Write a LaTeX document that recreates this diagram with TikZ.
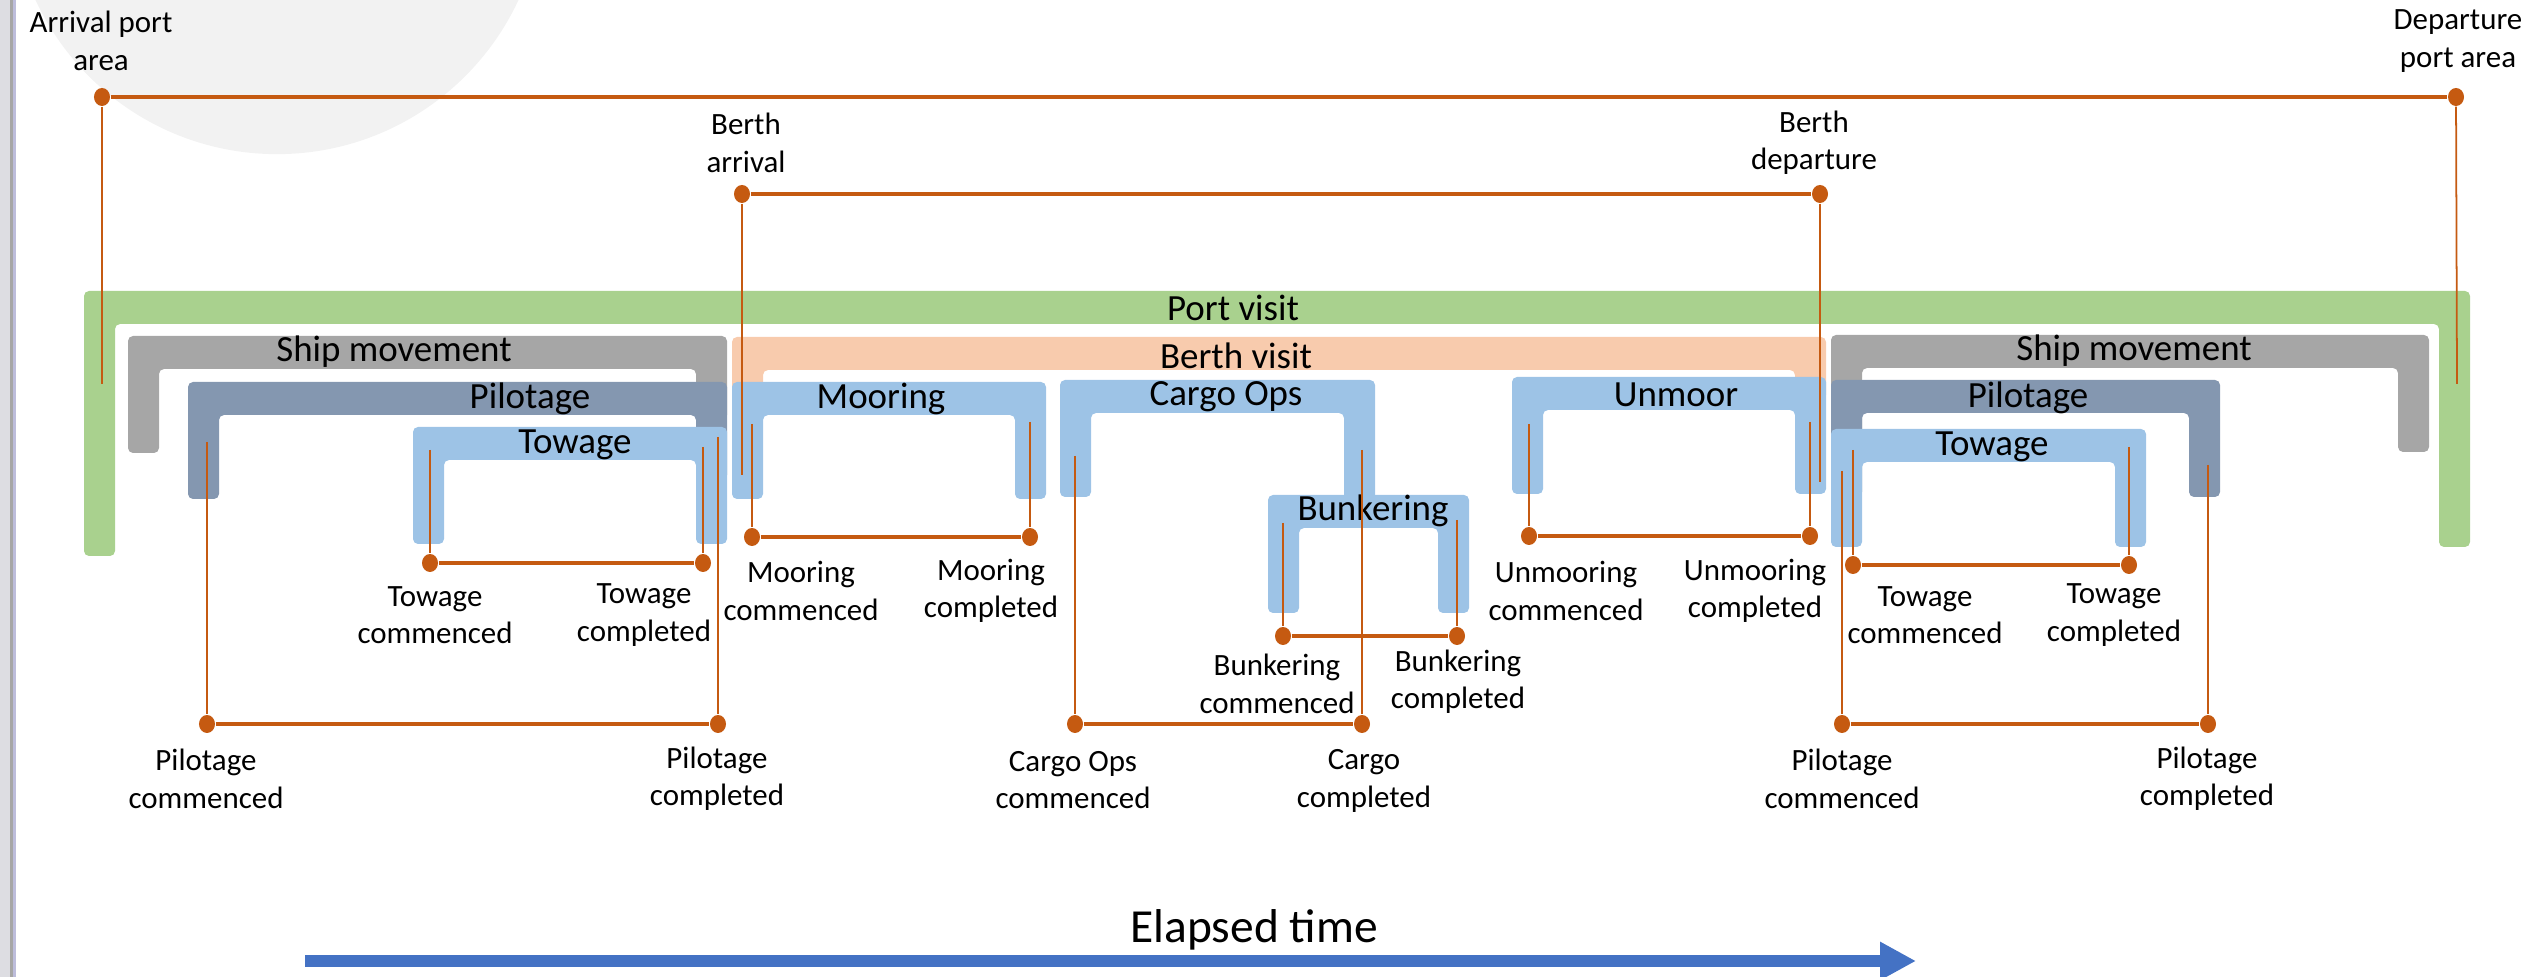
\documentclass[tikz,border=0pt]{standalone}
\usepackage{fontspec}
\setmainfont{Carlito}
\usepackage{xcolor}
\usetikzlibrary{arrows.meta, shapes.geometric}

\definecolor{pvgreen}{HTML}{A9D18E}
\definecolor{smgray}{HTML}{A6A6A6}
\definecolor{pilotblue}{HTML}{8497B0}
\definecolor{opsblue}{HTML}{9DC3E6}
\definecolor{berthpeach}{HTML}{F8CBAD}
\definecolor{evorange}{HTML}{C55A11}
\definecolor{timeblue}{HTML}{4472C4}

% colour, x left, x right, y top, y of left foot, y of right foot
\newcommand{\phasebar}[6]{%
  \fill[#1, rounded corners=0.5mm] (#2,#5) -- (#2,#4) -- (#3,#4) -- (#3,#6)
    -- ({#3-31},#6) -- ({#3-31},{#4+33}) -- ({#2+31},{#4+33}) -- ({#2+31},#5) -- cycle;
}

\begin{document}
\begin{tikzpicture}[x=0.01cm, y=-0.01cm,
    dot/.style={ellipse, fill=evorange, inner sep=0pt, minimum width=0.16cm, minimum height=0.18cm},
    span/.style={draw=evorange, line width=1.1pt},
    drop/.style={draw=evorange, line width=0.5pt},
    evlabel/.style={align=center, inner sep=0pt, font=\fontsize{8.8}{10.6}\selectfont},
    barlabel/.style={inner sep=0pt, font=\fontsize{10.5}{12.6}\selectfont}]
    \useasboundingbox (0,0) rectangle (2542,977);
    \clip (0,0) rectangle (2542,977);

    % Background
    \fill[black!5] (277,-112) circle [radius=2.66cm];
    \fill[blue!8!gray!25] (0,0) rectangle (10,977);
    \fill[gray!70] (10,0) rectangle (13,977);
    \fill[blue!30!gray!40] (13,0) rectangle (16,977);

    % Phase brackets
    \phasebar{pvgreen}{84}{2470}{291}{556}{547}
    \phasebar{smgray}{128}{727}{336}{453}{420}
    \phasebar{pilotblue}{188}{727}{382}{499}{480}
    \phasebar{opsblue}{413}{727}{427}{544}{544}
    \phasebar{berthpeach}{732}{1826}{337}{400}{400}
    \phasebar{opsblue}{732}{1046}{382}{499}{499}
    \phasebar{opsblue}{1060}{1375}{380}{497}{510}
    \phasebar{opsblue}{1268}{1469}{495}{613}{613}
    \phasebar{opsblue}{1512}{1826}{377}{494}{494}
    \phasebar{smgray}{1831}{2429}{335}{450}{452}
    \phasebar{pilotblue}{1831}{2220}{380}{497}{497}
    \phasebar{opsblue}{1831}{2146}{429}{547}{547}

    % Bracket titles
    \node[barlabel] (portvisit) at (1233,308) {Port visit};
    \node[barlabel] (shipmovA) at (394,352) {Ship movement};
    \node[barlabel] (pilotA) at (530,399) {Pilotage};
    \node[barlabel] (towA) at (575,445) {Towage};
    \node[barlabel] (berthvisit) at (1236,356) {Berth visit};
    \node[barlabel] (mooring) at (881,399) {Mooring};
    \node[barlabel] (cargo) at (1226,397) {Cargo Ops};
    \node[barlabel] (bunker) at (1373,511) {Bunkering};
    \node[barlabel] (unmoor) at (1676,395) {Unmoor};
    \node[barlabel] (shipmovB) at (2134,351) {Ship movement};
    \node[barlabel] (pilotB) at (2028,398) {Pilotage};
    \node[barlabel] (towB) at (1992,447) {Towage};

    % Port area and berth events
    \node[dot] (arrport) at (102,97) {};
    \node[dot] (depport) at (2456,97) {};
    \coordinate (arrportend) at (102,384);
    \coordinate (depportend) at (2457,384);
    \draw[span] (arrport) -- (depport);
    \draw[drop] (arrport) -- (arrportend);
    \draw[drop] (depport) -- (depportend);
    \node[evlabel] (arrporttxt) at (101,41) {Arrival port\\area};
    \node[evlabel] (depporttxt) at (2458,41) {Departure\\port area};

    \node[dot] (berarr) at (742,194) {};
    \node[dot] (berdep) at (1820,194) {};
    \coordinate (berarrend) at (742,475);
    \coordinate (berdepend) at (1820,482);
    \draw[span] (berarr) -- (berdep);
    \draw[drop] (berarr) -- (berarrend);
    \draw[drop] (berdep) -- (berdepend);
    \node[evlabel] (berarrtxt) at (746,143) {Berth\\arrival};
    \node[evlabel] (berdeptxt) at (1814,143) {Berth\\departure};

    % Start / end events of each activity
    \foreach \ev/\xa/\ya/\xb/\yb/\yd in {
        towA/430/450/703/447/563,
        pilA/207/442/718/437/724,
        moor/752/424/1030/422/537,
        cargo/1075/456/1362/450/724,
        bunk/1283/523/1457/520/636,
        unmoor/1529/424/1810/422/536,
        towB/1853/450/2129/447/565,
        pilB/1842/471/2208/465/724} {
        \coordinate (\ev starttop) at (\xa,\ya);
        \coordinate (\ev endtop) at (\xb,\yb);
        \node[dot] (\ev start) at (\xa,\yd) {};
        \node[dot] (\ev end) at (\xb,\yd) {};
        \draw[drop] (\ev starttop) -- (\ev start);
        \draw[drop] (\ev endtop) -- (\ev end);
        \draw[span] (\ev start) -- (\ev end);
    }

    \node[evlabel] (towAstarttxt) at (435,615) {Towage\\commenced};
    \node[evlabel] (towAendtxt) at (644,615) {Towage\\completed};
    \node[evlabel] (pilAstarttxt) at (206,779) {Pilotage\\commenced};
    \node[evlabel] (pilAendtxt) at (717,779) {Pilotage\\completed};
    \node[evlabel] (moorstarttxt) at (801,591) {Mooring\\commenced};
    \node[evlabel] (moorendtxt) at (991,591) {Mooring\\completed};
    \node[evlabel] (cargostarttxt) at (1073,780) {Cargo Ops\\commenced};
    \node[evlabel] (cargoendtxt) at (1364,781) {Cargo\\completed};
    \node[evlabel] (bunkstarttxt) at (1277,684) {Bunkering\\commenced};
    \node[evlabel] (bunkendtxt) at (1458,682) {Bunkering\\completed};
    \node[evlabel] (unmoorstarttxt) at (1566,591) {Unmooring\\commenced};
    \node[evlabel] (unmoorendtxt) at (1755,591) {Unmooring\\completed};
    \node[evlabel] (towBstarttxt) at (1925,615) {Towage\\commenced};
    \node[evlabel] (towBendtxt) at (2114,615) {Towage\\completed};
    \node[evlabel] (pilBstarttxt) at (1842,779) {Pilotage\\commenced};
    \node[evlabel] (pilBendtxt) at (2207,779) {Pilotage\\completed};

    % Time axis
    \coordinate (tstart) at (305,961);
    \coordinate (tend) at (1916,961);
    \draw[timeblue, line width=0.12cm, -{Triangle[length=0.36cm, width=0.36cm]}] (tstart) -- (tend);
    \node[inner sep=0pt, font=\fontsize{13.5}{16}\selectfont] (elapsed) at (1254,930) {Elapsed time};
\end{tikzpicture}
\end{document}
